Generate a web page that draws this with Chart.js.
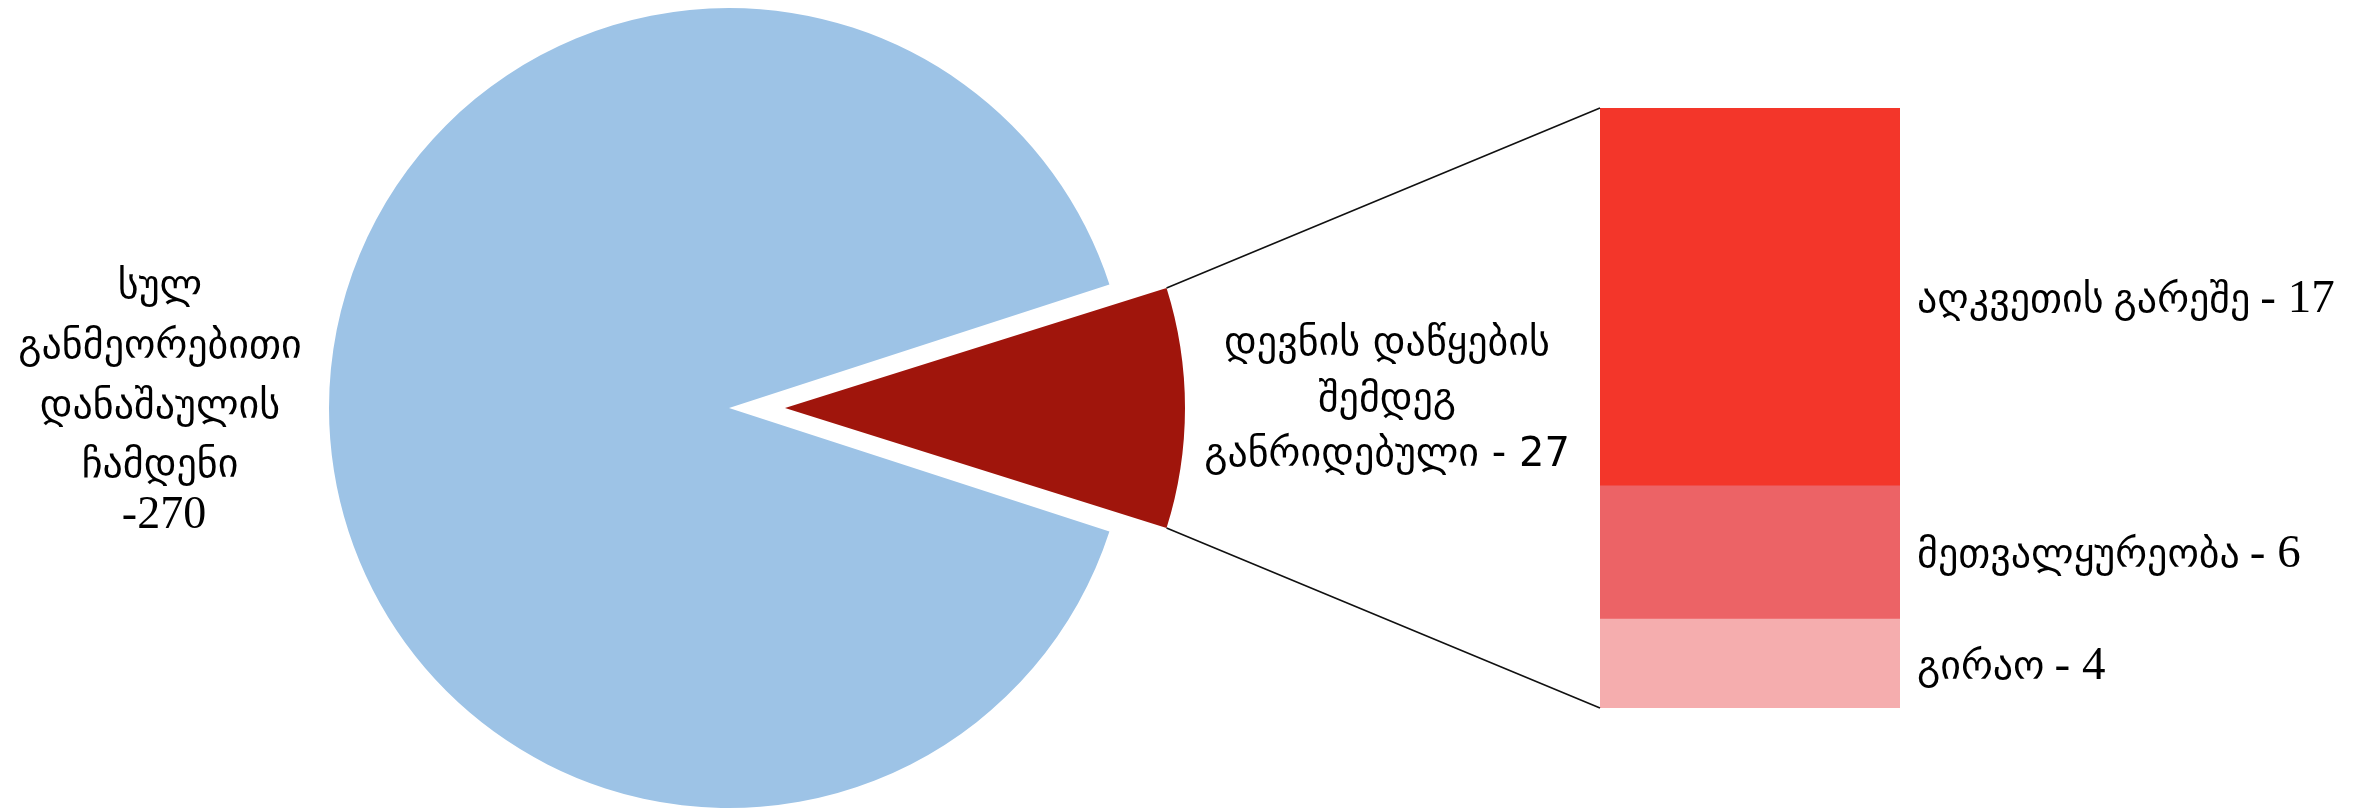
<!DOCTYPE html>
<html><head><meta charset="utf-8">
<script src="https://cdn.jsdelivr.net/npm/chart.js@4.4.1/dist/chart.umd.min.js"></script>
<style>
html,body{margin:0;padding:0;background:#fff;}
#wrap{position:relative;width:2354px;height:809px;overflow:hidden;background:#fff;}
#wrap canvas{position:absolute;left:0;top:0;}
</style></head><body>
<div id="wrap"><canvas id="pie" width="2354" height="809"></canvas><canvas id="bar" width="2354" height="809"></canvas></div>
<script>
// ---- data ----
const pieCategories = ['სულ განმეორებითი დანაშაულის ჩამდენი', 'დევნის დაწყების შემდეგ განრიდებული'];
const pieTotal = 270;
const pieValues = [243, 27];           // rest of total, diverted after prosecution started
const pieColors = ['#9DC3E6', '#A0150C'];
const leftLabelLines = ['სულ', 'განმეორებითი', 'დანაშაულის', 'ჩამდენი', '-270'];
const midLabelLines = ['დევნის დაწყების', 'შემდეგ', 'განრიდებული - 27'];
const barCategories = ['აღკვეთის გარეშე', 'მეთვალყურეობა', 'გირაო'];
const barValues = [17, 6, 4];
const barColors = ['#F3362A', '#EC6366', '#F5ADAE'];

// ---- layout constants ----
const PIE_R = 400;
const EXPLODE = 224;   // Chart.js translates an arc by offset/4
const SERIF = "'Liberation Serif', 'DejaVu Sans', serif";
const SANS = "'DejaVu Sans', sans-serif";

function redGeom(chart) {
  const arc = chart.getDatasetMeta(0).data[1];
  const off = EXPLODE / 4;
  const fix = 1 - Math.sin(Math.min(Math.PI, arc.circumference));
  const ro = off * fix;
  const mid = (arc.startAngle + arc.endAngle) / 2;
  const ax = arc.x + Math.cos(mid) * off, ay = arc.y + Math.sin(mid) * off;
  const R = arc.outerRadius + ro;
  const alpha = arc.endAngle - arc.startAngle;
  const beta = Math.max(0.001, alpha * R - ro / Math.PI) / R;
  const sa = arc.startAngle + (alpha - beta) / 2, ea = arc.endAngle - (alpha - beta) / 2;
  return {ax, ay, R, top: [ax + R * Math.cos(sa), ay + R * Math.sin(sa)], bot: [ax + R * Math.cos(ea), ay + R * Math.sin(ea)]};
}

const radiusFix = {
  id: 'radiusFix',
  afterDatasetsUpdate(chart) {
    const arc = chart.getDatasetMeta(0).data[1];
    const off = EXPLODE / 4;
    const fix = 1 - Math.sin(Math.min(Math.PI, arc.circumference));
    arc.outerRadius = PIE_R - off * fix;
  }
};

const pieText = {
  id: 'pieText',
  afterDraw(chart) {
    const ctx = chart.ctx;
    const a0 = chart.getDatasetMeta(0).data[0];
    const g = redGeom(chart);
    ctx.save();
    ctx.fillStyle = '#000';
    ctx.textAlign = 'center';
    ctx.textBaseline = 'alphabetic';
    const lx = a0.x - PIE_R - 169;
    const lOff = [-110, -50, 10, 69, 120];
    leftLabelLines.forEach((t, i) => {
      ctx.font = (i === leftLabelLines.length - 1 ? '46px ' : '40px ') + SERIF;
      ctx.fillText(t, i === leftLabelLines.length - 1 ? lx + 4 : lx, a0.y + lOff[i]);
    });
    ctx.font = '40px ' + SANS;
    const mx = g.ax + g.R + 202;
    const mOff = [-53, 3, 58];
    midLabelLines.forEach((t, i) => ctx.fillText(t, mx, a0.y + mOff[i]));
    ctx.restore();
  }
};

const pieChart = new Chart(document.getElementById('pie'), {
  type: 'pie',
  data: {
    labels: pieCategories,
    datasets: [{data: pieValues, backgroundColor: pieColors, borderWidth: 0, offset: [0, EXPLODE]}]
  },
  options: {
    responsive: false, animation: false, devicePixelRatio: 1, events: [],
    radius: PIE_R, rotation: 108,
    layout: {padding: {left: 329, right: 1225, top: 8, bottom: 1}},
    plugins: {legend: {display: false}, tooltip: {enabled: false}}
  },
  plugins: [radiusFix, pieText]
});

const barDecor = {
  id: 'barDecor',
  afterDraw(chart) {
    const ctx = chart.ctx;
    const n = chart.data.datasets.length;
    ctx.save();
    ctx.fillStyle = '#000';
    ctx.textAlign = 'left';
    ctx.textBaseline = 'alphabetic';
    for (let d = 0; d < n; d++) {
      const el = chart.getDatasetMeta(d).data[0];
      const ds = chart.data.datasets[d];
      const x = el.x + el.width / 2 + 17, y = (el.y + el.base) / 2 + 15;
      ctx.font = '40px ' + SERIF;
      const head = ds.label + ' ';
      ctx.fillText(head, x, y);
      const w = ctx.measureText(head).width;
      ctx.font = '47px ' + SERIF;
      ctx.fillText('- ' + ds.data[0], x + w, y);
    }
    const topEl = chart.getDatasetMeta(n - 1).data[0];
    const botEl = chart.getDatasetMeta(0).data[0];
    const g = redGeom(pieChart);
    ctx.strokeStyle = '#111';
    ctx.lineWidth = 1.6;
    ctx.beginPath();
    ctx.moveTo(g.top[0], g.top[1]);
    ctx.lineTo(topEl.x - topEl.width / 2, topEl.y);
    ctx.moveTo(g.bot[0], g.bot[1]);
    ctx.lineTo(botEl.x - botEl.width / 2, botEl.base);
    ctx.stroke();
    ctx.restore();
  }
};

const barDatasets = barValues.map((v, i) => ({
  label: barCategories[i], data: [v], backgroundColor: barColors[i],
  borderWidth: 0, barPercentage: 1, categoryPercentage: 1
})).reverse();

new Chart(document.getElementById('bar'), {
  type: 'bar',
  data: {labels: [''], datasets: barDatasets},
  options: {
    responsive: false, animation: false, devicePixelRatio: 1, events: [],
    layout: {padding: {left: 1600, right: 454, top: 108, bottom: 101}},
    scales: {
      x: {display: false, stacked: true},
      y: {display: false, stacked: true, min: 0, max: barValues.reduce((a, b) => a + b, 0)}
    },
    plugins: {legend: {display: false}, tooltip: {enabled: false}}
  },
  plugins: [barDecor]
});
</script>
</body></html>
